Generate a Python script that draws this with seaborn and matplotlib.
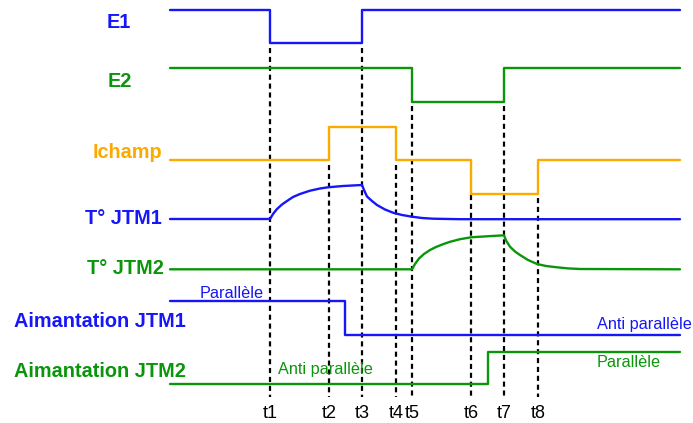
# %%
# Libraries
import matplotlib
matplotlib.use("Agg")
import matplotlib.pyplot as plt
import seaborn as sns

# %%
# Data (time axis and levels in picture units)
t_begin, t_end = 170, 680
t_names = ["t1", "t2", "t3", "t4", "t5", "t6", "t7", "t8"]
t_times = [270, 329, 362, 396, 412, 471, 504, 538]
t_dash_top = [48, 165, 48, 165, 106, 195, 106, 198]
t_dash_bottom = 397

e1_x = [170, 270, 362, 680]
e1_y = [10, 43, 10, 10]

e2_x = [170, 412, 504, 680]
e2_y = [68, 102, 68, 68]

ichamp_x = [170, 329, 396, 471, 538, 680]
ichamp_y = [160, 127, 160, 194, 160, 160]

# temperature curves, points picked along the drawn curves
tjtm1_x = [170, 270, 273, 277, 282, 287, 293, 300, 310, 320, 328, 343, 362,
           364, 367, 372, 377, 385, 393, 402, 412, 422, 433, 460, 680]
tjtm1_y = [219, 219, 214, 209, 204.5, 201, 197, 194, 190.7, 188.5, 187.3, 186, 185,
           190, 196.5, 201, 205, 209.5, 212.7, 215, 216.7, 218, 218.7, 219.2, 219.2]

tjtm2_x = [170, 412, 415, 419, 424, 430, 436, 443, 450, 460, 471, 487, 504,
           506, 510, 515, 520, 528, 537, 546, 557, 568, 580, 680]
tjtm2_y = [269.3, 269.3, 264, 258.5, 254, 250, 247, 244.2, 241.8, 239.2, 237.3, 236.3, 235.3,
           240.5, 246.7, 251.5, 255, 260, 264, 266, 267.3, 268.4, 269, 269.3]

aim1_x = [170, 345, 680]
aim1_y = [301, 335, 335]

aim2_x = [170, 488, 680]
aim2_y = [384, 352, 352]

# %%
blue = "#1616f8"
green = "#0a960a"
orange = "#fbab00"

sns.set_style("white")
plt.rcParams['font.family'] = ['Liberation Sans', 'DejaVu Sans']

fig = plt.figure(figsize=(6.93, 4.23), dpi=100)
ax = fig.add_axes([0, 0, 1, 1])

lw = 1.7
# vertical markers
ax.vlines(t_times, t_dash_top, t_dash_bottom, colors="black", linewidth=1.6,
          linestyles=(0, (2.3, 1.7)), zorder=1)

# step signals
for xs, ys, col in [(e1_x, e1_y, blue), (e2_x, e2_y, green), (ichamp_x, ichamp_y, orange),
                    (aim1_x, aim1_y, blue), (aim2_x, aim2_y, green)]:
    sns.lineplot(x=xs, y=ys, ax=ax, color=col, linewidth=lw, drawstyle="steps-post",
                 sort=False, estimator=None, zorder=2)

# temperature curves
sns.lineplot(x=tjtm1_x, y=tjtm1_y, ax=ax, color=blue, linewidth=lw, sort=False, estimator=None, zorder=2)
sns.lineplot(x=tjtm2_x, y=tjtm2_y, ax=ax, color=green, linewidth=lw, sort=False, estimator=None, zorder=2)

ax.set_xlim(0, 693)
ax.set_ylim(423, 0)
ax.axis("off")

# signal names
big = 14.3
ax.text(119, 28, "E1", color=blue, fontsize=big, fontweight="bold", ha="center", va="baseline")
ax.text(119.5, 87, "E2", color=green, fontsize=big, fontweight="bold", ha="center", va="baseline")
ax.text(162, 158, "Ichamp", color=orange, fontsize=big, fontweight="bold", ha="right", va="baseline")
ax.text(162, 224, "T° JTM1", color=blue, fontsize=big, fontweight="bold", ha="right", va="baseline")
ax.text(164, 274, "T° JTM2", color=green, fontsize=big, fontweight="bold", ha="right", va="baseline")
ax.text(14, 327, "Aimantation JTM1", color=blue, fontsize=big, fontweight="bold", ha="left", va="baseline")
ax.text(14, 377, "Aimantation JTM2", color=green, fontsize=big, fontweight="bold", ha="left", va="baseline")

# state labels
small = 11.7
ax.text(200, 297.5, "Parallèle", color=blue, fontsize=small, ha="left", va="baseline")
ax.text(597, 329, "Anti parallèle", color=blue, fontsize=small, ha="left", va="baseline")
ax.text(278, 374, "Anti parallèle", color=green, fontsize=small, ha="left", va="baseline")
ax.text(597, 367, "Parallèle", color=green, fontsize=small, ha="left", va="baseline")

# time labels
for name, t in zip(t_names, t_times):
    ax.text(t, 418, name, color="black", fontsize=13, ha="center", va="baseline")

plt.savefig("out.png", dpi=100)
